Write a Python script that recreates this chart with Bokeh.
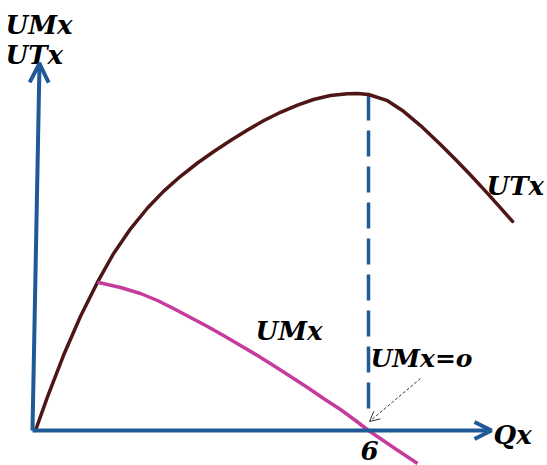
from bokeh.plotting import figure
from bokeh.models import Arrow, OpenHead, ColumnDataSource, Range1d
from bokeh.core.properties import value
from bokeh.embed import file_html
from bokeh.resources import INLINE

# ---- data ----
q_ut = [0, 0.216, 0.505, 0.811, 1.117, 1.405, 1.712, 2.018, 2.306, 2.613, 2.919, 3.207,
        3.514, 3.820, 4.108, 4.414, 4.721, 5.009, 5.315, 5.622, 5.802, 6.0, 6.342, 6.631,
        6.937, 7.297, 7.568, 7.838, 8.144, 8.378, 8.595]
ut = [0, 3.36, 7.52, 11.43, 14.83, 17.68, 20.17, 22.25, 23.91, 25.42, 26.75, 27.88,
      29.0, 30.05, 30.97, 31.82, 32.54, 33.1, 33.5, 33.68, 33.7, 33.6, 32.98, 31.92,
      30.49, 28.61, 27.11, 25.55, 23.71, 22.27, 20.91]
q_um = [1.117, 1.532, 1.892, 2.198, 2.486, 2.793, 3.099, 3.387, 3.694, 4.000, 4.288,
        4.595, 4.901, 5.189, 5.495, 5.766, 6.0, 6.450, 6.883]
um = [14.83, 14.3, 13.7, 13.0, 12.2, 11.3, 10.4, 9.5, 8.5, 7.5, 6.5,
      5.4, 4.3, 3.2, 2.1, 1.0, 0, -1.7, -3.3]
q_opt = 6
ut_max_at_opt = 33.6
tick_label = "6"

# ---- layout ----
W, H = 547, 465
PX_PER_Q = 55.5
PX_PER_U = 10.0
OX, OY = 35, 430   # origin on the canvas

def qx(px):   # canvas px -> Q
    return (px - OX) / PX_PER_Q

def uy(py):   # canvas px (from top) -> U
    return (OY - py) / PX_PER_U

p = figure(width=W, height=H, output_backend="svg", toolbar_location=None,
           x_range=Range1d(qx(0), qx(W)), y_range=Range1d(uy(H), uy(0)),
           x_axis_type=None, y_axis_type=None, min_border=0)
p.grid.visible = False
p.outline_line_color = None
p.background_fill_color = "white"
p.border_fill_color = "white"

BLUE = "#1f5a96"
BROWN = "#4e1616"
MAGENTA = "#c53c9d"

# dashed vertical at Q=6
p.segment(x0=[q_opt], y0=[ut_max_at_opt], x1=[q_opt], y1=[uy(418)], line_color=BLUE,
          line_width=3.5, line_dash="26 10")

# curves
p.line(q_ut, ut, line_color=BROWN, line_width=3.5, line_join="round", line_cap="round")
p.line(q_um, um, line_color=MAGENTA, line_width=3.5, line_join="round")

# axes as arrows
p.add_layout(Arrow(x_start=qx(32), y_start=0, x_end=qx(491), y_end=0,
                   line_color=BLUE, line_width=4,
                   end=OpenHead(size=17, line_color=BLUE, line_width=4)))
p.add_layout(Arrow(x_start=qx(32), y_start=0, x_end=qx(39), y_end=uy(63),
                   line_color=BLUE, line_width=4,
                   end=OpenHead(size=19, line_color=BLUE, line_width=4)))

# annotation arrow
p.add_layout(Arrow(x_start=qx(420), y_start=uy(378), x_end=qx(369), y_end=uy(421),
                   line_color="#333333", line_width=1, line_dash="3 2",
                   end=OpenHead(size=10, line_color="#333333", line_width=1)))

# labels
labels = ColumnDataSource(dict(
    x=[qx(5), qx(5), qx(486), qx(255), qx(370), qx(360), qx(493)],
    y=[uy(24), uy(54), uy(185), uy(330), uy(358), uy(450), uy(434)],
    t=["UMx", "UTx", "UTx", "UMx", "UMx=o", tick_label, "Qx"],
    s=["26px", "26px", "26px", "26px", "25px", "26px", "26px"],
))
p.text(x="x", y="y", text="t", source=labels, text_font=value("DejaVu Serif"),
       text_font_style="bold italic", text_font_size="s", text_color="black",
       text_baseline="middle", text_align="left")

open("out.html", "w").write(file_html(p, INLINE))
